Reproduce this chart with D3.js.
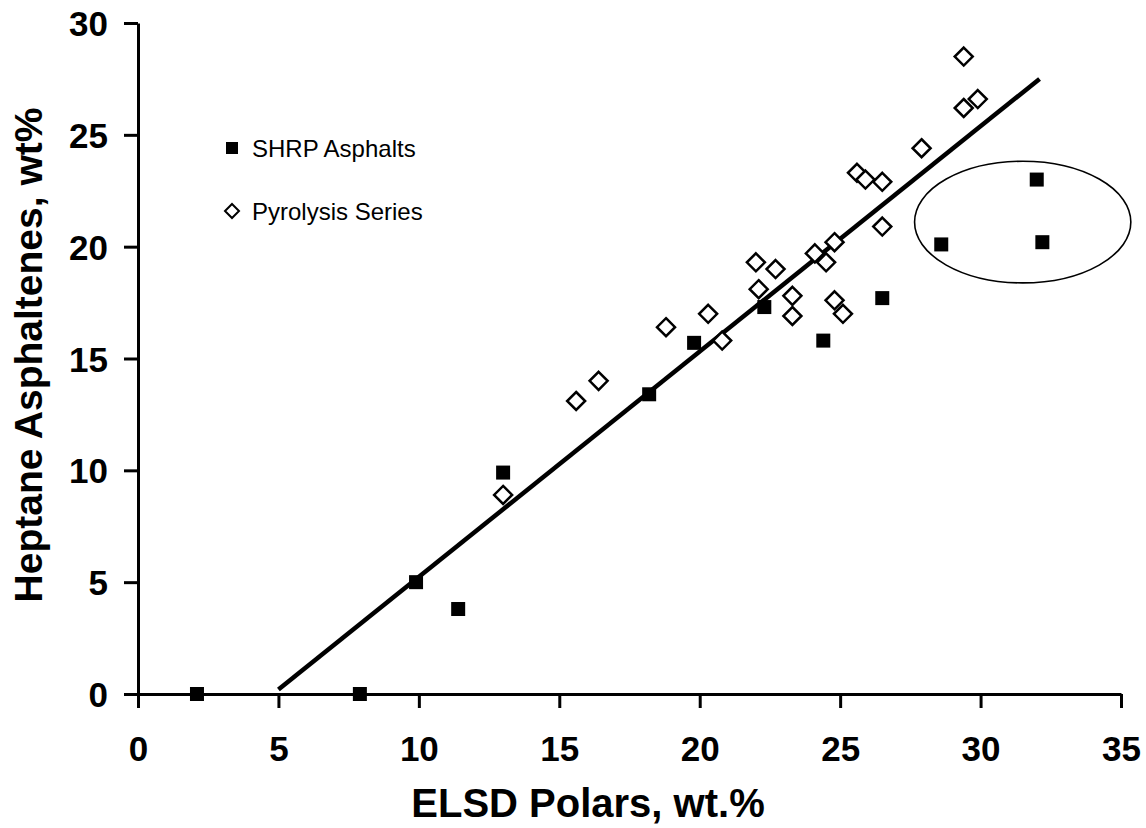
<!DOCTYPE html>
<html>
<head>
<meta charset="utf-8">
<script src="https://cdn.jsdelivr.net/npm/d3@7"></script>
<style>
    body { margin: 0; background: #fff; }
    svg text { font-family: "Liberation Sans", Arial, sans-serif; fill: #000; }
</style>
</head>
<body>
<svg id="chart" width="1146" height="828"></svg>
<script>
// SHRP asphalts (filled squares)
const shrpX = [2.1, 7.9, 9.9, 11.4, 13.0, 18.2, 19.8, 22.3, 24.4, 26.5, 28.6, 32.0, 32.2];
const shrpY = [0.0, 0.0, 5.0, 3.8, 9.9, 13.4, 15.7, 17.3, 15.8, 17.7, 20.1, 23.0, 20.2];

// pyrolysis series (open diamonds)
const pyroX = [13.0, 15.6, 16.4, 18.8, 20.3, 20.8, 22.0, 22.1, 22.7, 23.3, 23.3, 24.1, 24.5, 24.8, 24.8, 25.1, 25.6, 25.9, 26.5, 26.5, 27.9, 29.4, 29.4, 29.9];
const pyroY = [8.9, 13.1, 14.0, 16.4, 17.0, 15.8, 19.3, 18.1, 19.0, 17.8, 16.9, 19.7, 19.3, 20.2, 17.6, 17.0, 23.3, 23.0, 22.9, 20.9, 24.4, 28.5, 26.2, 26.6];

// regression line end points
const fitX = [5.0, 32.1];
const fitY = [0.2, 27.5];

// circled group of outliers: center and radii in data units
const ringCenter = [31.5, 21.1];
const ringRadius = [3.85, 2.72];

const xTicks = [0, 5, 10, 15, 20, 25, 30, 35];
const yTicks = [0, 5, 10, 15, 20, 25, 30];

const margin = {top: 23, right: 25, bottom: 134, left: 138};
const width = 1146 - margin.left - margin.right;
const height = 828 - margin.top - margin.bottom;

const svg = d3.select("#chart");
const g = svg.append("g").attr("transform", "translate(" + margin.left + "," + margin.top + ")");

const x = d3.scaleLinear().domain([0, 35]).range([0, width]);
const y = d3.scaleLinear().domain([0, 30]).range([height, 0]);

// axes
const xAxis = g.append("g").attr("transform", "translate(0," + height + ")")
    .call(d3.axisBottom(x).tickValues(xTicks).tickSize(14).tickPadding(28).tickSizeOuter(0));
const yAxis = g.append("g")
    .call(d3.axisLeft(y).tickValues(yTicks).tickSize(14).tickPadding(16).tickSizeOuter(0));

[xAxis, yAxis].forEach(function (ax) {
    ax.select(".domain").attr("stroke", "#000").attr("stroke-width", 3);
    ax.selectAll(".tick line").attr("stroke", "#000").attr("stroke-width", 3);
    ax.selectAll(".tick text").style("font-size", "35px").style("font-weight", "bold")
        .style("font-family", "'Liberation Sans', Arial, sans-serif").attr("fill", "#000");
});
yAxis.selectAll(".tick text").attr("dy", "0.36em");

// axis titles
svg.append("text").attr("x", 588).attr("y", 817)
    .attr("text-anchor", "middle").style("font-size", "40px").style("font-weight", "bold")
    .text("ELSD Polars, wt.%");

svg.append("text").attr("transform", "translate(42,355) rotate(-90)")
    .attr("text-anchor", "middle").style("font-size", "39px").style("font-weight", "bold")
    .text("Heptane Asphaltenes, wt%");

// fit line
g.append("line")
    .attr("x1", x(fitX[0])).attr("y1", y(fitY[0]))
    .attr("x2", x(fitX[1])).attr("y2", y(fitY[1]))
    .attr("stroke", "#000").attr("stroke-width", 4.5);

// ellipse round the outliers
g.append("ellipse")
    .attr("cx", x(ringCenter[0])).attr("cy", y(ringCenter[1]))
    .attr("rx", x(ringRadius[0]) - x(0)).attr("ry", y(0) - y(ringRadius[1]))
    .attr("fill", "none").attr("stroke", "#000").attr("stroke-width", 1.6);

const diamond = function (r) {
    return "M0," + (-r) + "L" + r + ",0L0," + r + "L" + (-r) + ",0Z";
};

// pyrolysis diamonds
g.selectAll(".pyro").data(d3.range(pyroX.length)).enter().append("path")
    .attr("class", "pyro")
    .attr("transform", function (i) { return "translate(" + x(pyroX[i]) + "," + y(pyroY[i]) + ")"; })
    .attr("d", diamond(9))
    .attr("fill", "#fff").attr("stroke", "#000").attr("stroke-width", 2.5);

// SHRP squares
g.selectAll(".shrp").data(d3.range(shrpX.length)).enter().append("rect")
    .attr("class", "shrp")
    .attr("x", function (i) { return x(shrpX[i]) - 7; })
    .attr("y", function (i) { return y(shrpY[i]) - 7; })
    .attr("width", 14).attr("height", 14)
    .attr("fill", "#000");

// legend
const legend = svg.append("g");
legend.append("rect").attr("x", 226).attr("y", 142).attr("width", 12).attr("height", 12).attr("fill", "#000");
legend.append("text").attr("x", 252).attr("y", 157).style("font-size", "24px").text("SHRP Asphalts");
legend.append("path").attr("transform", "translate(232,211)").attr("d", diamond(7))
    .attr("fill", "#fff").attr("stroke", "#000").attr("stroke-width", 2);
legend.append("text").attr("x", 252).attr("y", 220).style("font-size", "24px").text("Pyrolysis Series");
</script>
</body>
</html>
